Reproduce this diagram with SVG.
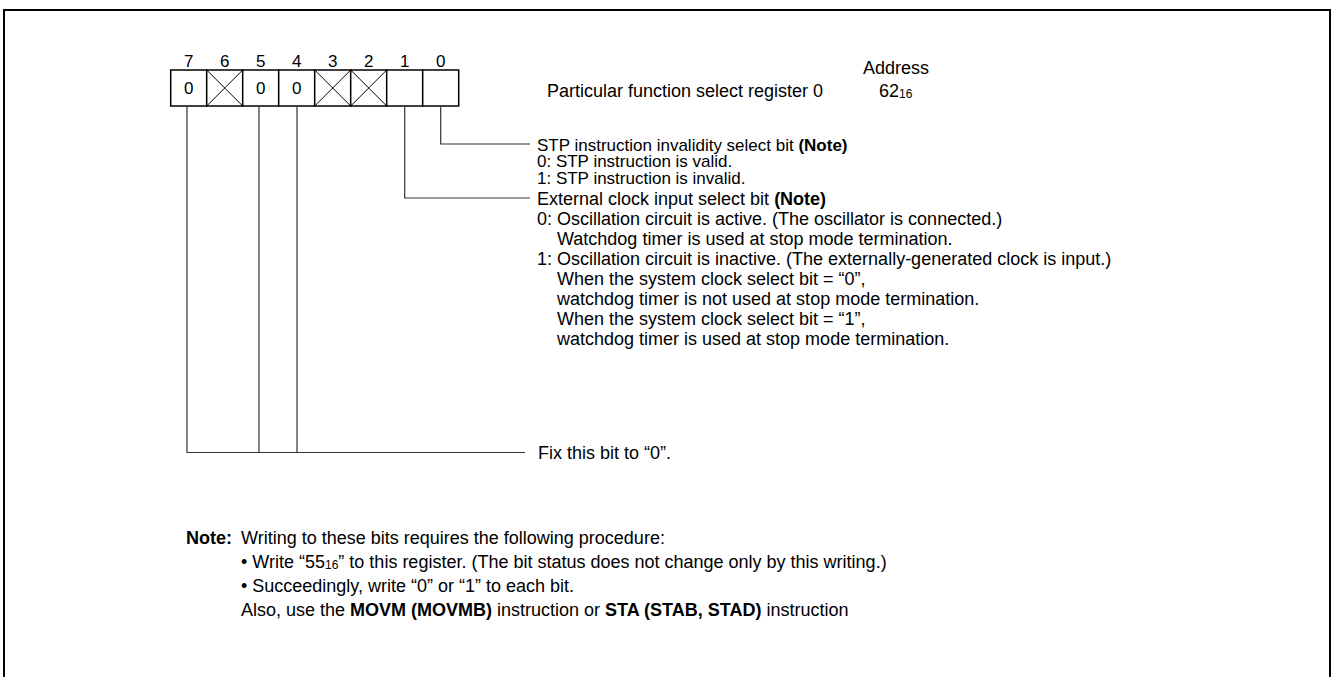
<svg xmlns="http://www.w3.org/2000/svg" width="1334" height="677" viewBox="0 0 1334 677">
<style>
text{font-family:"Liberation Sans",Arial,sans-serif;font-size:18px;fill:#000}
.b{font-weight:bold}
.sub{font-size:12px}
.s17{font-size:17px}
.cell{fill:#fff;stroke:#000;stroke-width:1.5}
.x{stroke:#000;stroke-width:1}
.ln{fill:none;stroke:#333;stroke-width:1.2}
.num{text-anchor:middle;font-size:17px}
</style>
<rect x="4" y="10" width="1326" height="690" fill="#fff" stroke="#000" stroke-width="2"/>
<g id="register">
<g id="bitnums">
<text class="num" x="188.7" y="67">7</text>
<text class="num" x="224.7" y="67">6</text>
<text class="num" x="260.7" y="67">5</text>
<text class="num" x="296.7" y="67">4</text>
<text class="num" x="332.7" y="67">3</text>
<text class="num" x="368.7" y="67">2</text>
<text class="num" x="404.7" y="67">1</text>
<text class="num" x="440.7" y="67">0</text>
</g>
<rect class="cell" x="170.7" y="70" width="36" height="36"/>
<rect class="cell" x="206.7" y="70" width="36" height="36"/>
<rect class="cell" x="242.7" y="70" width="36" height="36"/>
<rect class="cell" x="278.7" y="70" width="36" height="36"/>
<rect class="cell" x="314.7" y="70" width="36" height="36"/>
<rect class="cell" x="350.7" y="70" width="36" height="36"/>
<rect class="cell" x="386.7" y="70" width="36" height="36"/>
<rect class="cell" x="422.7" y="70" width="36" height="36"/>
<path class="x" d="M206.7 70L242.7 106M242.7 70L206.7 106M314.7 70L350.7 106M350.7 70L314.7 106M350.7 70L386.7 106M386.7 70L350.7 106"/>
<text class="num" x="188.7" y="94">0</text>
<text class="num" x="260.7" y="94">0</text>
<text class="num" x="296.7" y="94">0</text>
</g>
<g id="title">
<text x="547" y="96.5">Particular function select register 0</text>
<text x="863" y="73.5">Address</text>
<text x="879" y="96.5">62<tspan class="sub" dy="1">16</tspan></text>
</g>
<g id="connectors">
<path class="ln" d="M440.7 106V144H530"/>
<path class="ln" d="M404.7 106V198H530"/>
<path class="ln" d="M187 106V452.5H525M259 106V452.5M297 106V452.5"/>
</g>
<g id="bit0">
<text class="s17" x="537" y="150.5">STP instruction invalidity select bit <tspan class="b">(Note)</tspan></text>
<text class="s17" x="537" y="167">0: STP instruction is valid.</text>
<text class="s17" x="537" y="183.5">1: STP instruction is invalid.</text>
</g>
<g id="bit1">
<text x="537" y="204.5">External clock input select bit <tspan class="b">(Note)</tspan></text>
<text x="537" y="224.5">0: Oscillation circuit is active. (The oscillator is connected.)</text>
<text x="557" y="244.5">Watchdog timer is used at stop mode termination.</text>
<text x="537" y="264.5">1: Oscillation circuit is inactive. (The externally-generated clock is input.)</text>
<text x="557" y="284.5">When the system clock select bit = “0”,</text>
<text x="557" y="304.5">watchdog timer is not used at stop mode termination.</text>
<text x="557" y="324.5">When the system clock select bit = “1”,</text>
<text x="557" y="344.5">watchdog timer is used at stop mode termination.</text>
</g>
<g id="bits754">
<text x="538" y="458.5">Fix this bit to “0”.</text>
</g>
<g id="note">
<text class="b" x="186" y="543.5">Note:</text>
<text x="241" y="543.5">Writing to these bits requires the following procedure:</text>
<text x="241" y="567.5">• Write “55<tspan class="sub" dy="1">16</tspan><tspan dy="-1">” to this register. (The bit status does not change only by this writing.)</tspan></text>
<text x="241" y="591.5">• Succeedingly, write “0” or “1” to each bit.</text>
<text x="241" y="615.5">Also, use the <tspan class="b">MOVM (MOVMB)</tspan> instruction or <tspan class="b">STA (STAB, STAD)</tspan> instruction</text>
</g>
</svg>
